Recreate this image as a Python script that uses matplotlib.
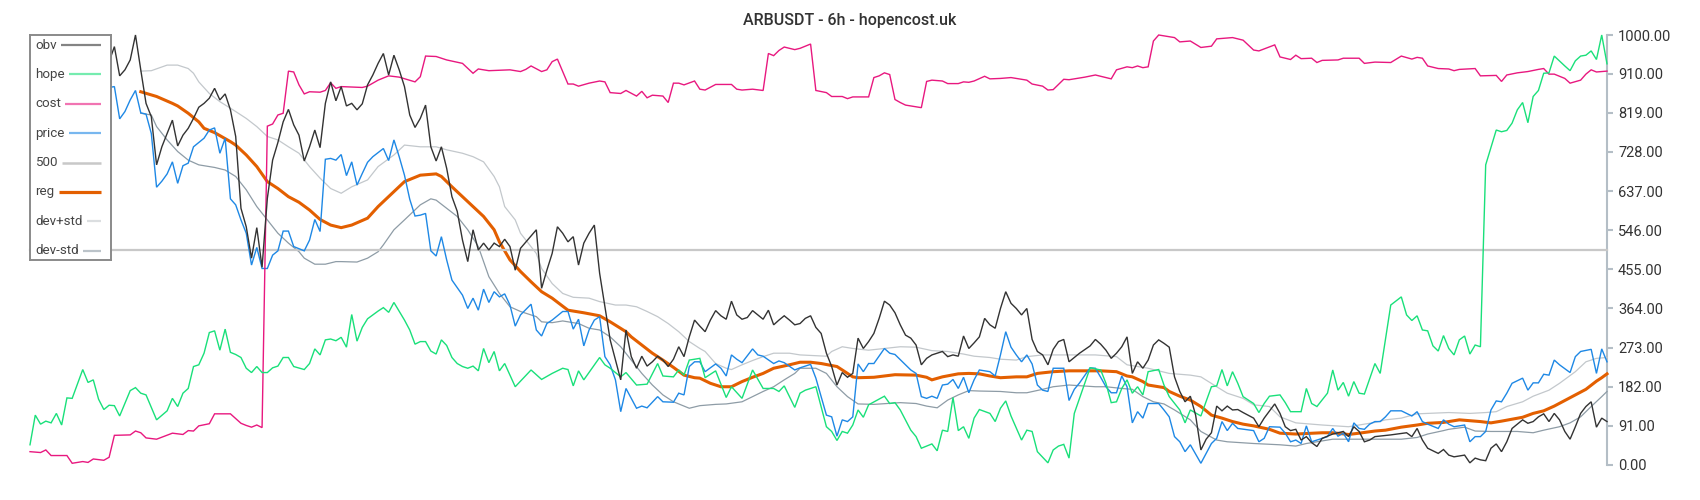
import matplotlib
matplotlib.use("Agg")
import matplotlib.pyplot as plt

plt.rcParams['font.family'] = ['Roboto', 'DejaVu Sans']

title = "ARBUSDT - 6h - hopencost.uk"
n_bars = 300
y_ticks = [0, 91, 182, 273, 364, 455, 546, 637, 728, 819, 910, 1000]
legend_labels = ["obv", "hope", "cost", "price", "500", "reg", "dev+std", "dev-std"]
level_500 = 500

# (bar index, value) pairs
obv_pts = [(15,938),(16,973),(17,905),(18,919),(19,942),(20,1000),(21,919),(22,841),(23,810),(24,698),(25,740),(26,771),(27,802),(28,742),(29,767),(30,783),(31,806),(32,832),(33,841),(34,853),(35,876),(36,849),(37,863),(38,826),(39,764),(40,597),(41,554),(42,481),(43,552),(44,460),(45,620),(46,709),(47,750),(48,798),(49,827),(50,791),(51,767),(52,707),(53,740),(54,779),(55,738),(56,841),(57,891),(58,847),(59,880),(60,835),(61,841),(62,826),(63,840),(64,884),(65,907),(66,934),(67,957),(68,907),(69,953),(70,919),(71,880),(72,814),(73,785),(74,806),(75,837),(76,740),(77,707),(78,740),(79,690),(80,624),(81,590),(82,523),(83,473),(84,547),(85,500),(86,516),(87,500),(88,516),(89,508),(90,525),(91,508),(92,453),(93,504),(96,547),(97,411),(98,453),(99,492),(100,554),(101,539),(102,519),(103,531),(104,465),(105,516),(106,539),(107,558),(108,446),(109,368),(110,291),(112,198),(113,314),(114,252),(115,225),(116,253),(117,230),(118,240),(119,253),(120,244),(121,229),(122,246),(123,275),(124,252),(125,298),(126,337),(127,323),(128,310),(129,337),(130,359),(131,347),(132,339),(133,381),(134,349),(135,339),(136,343),(137,359),(138,349),(139,339),(140,360),(141,326),(142,337),(143,347),(144,337),(145,326),(146,329),(147,341),(148,347),(149,320),(150,306),(151,260),(152,229),(153,186),(154,215),(155,204),(156,213),(157,295),(158,271),(159,287),(160,306),(161,341),(162,381),(163,372),(164,354),(165,326),(166,302),(167,295),(168,279),(169,233),(170,248),(171,256),(173,264),(174,252),(175,256),(176,253),(177,300),(178,271),(179,284),(180,298),(181,341),(182,326),(183,318),(184,364),(185,403),(186,376),(187,364),(188,349),(189,364),(190,292),(191,264),(192,256),(193,233),(194,269),(195,287),(196,292),(197,240),(199,260),(201,277),(202,292),(203,281),(204,267),(205,248),(206,260),(207,275),(208,298),(209,213),(210,240),(211,225),(212,244),(213,279),(214,291),(215,283),(216,274),(217,205),(218,171),(219,147),(220,160),(221,116),(222,35),(223,60),(224,75),(225,137),(226,126),(227,137),(228,128),(229,129),(230,122),(232,109),(233,89),(234,109),(236,142),(237,120),(238,89),(239,80),(240,83),(241,58),(242,66),(243,52),(244,43),(245,62),(247,72),(249,78),(250,66),(251,89),(252,78),(253,54),(254,58),(255,66),(258,70),(261,75),(262,66),(263,85),(264,58),(265,39),(267,27),(268,36),(269,23),(270,19),(271,21),(272,23),(273,5),(274,16),(275,12),(276,10),(277,39),(278,49),(279,31),(280,54),(281,85),(283,105),(284,97),(285,101),(286,112),(287,119),(288,101),(289,120),(290,105),(291,78),(292,60),(293,89),(294,120),(295,136),(296,147),(297,88),(298,109),(299,101)]

hope_pts = [(0,47),(1,116),(2,95),(3,102),(4,98),(5,120),(6,93),(7,156),(8,155),(10,222),(11,192),(12,198),(13,153),(14,129),(15,139),(16,138),(17,114),(19,173),(20,180),(21,167),(22,163),(24,105),(26,126),(27,155),(28,136),(29,167),(30,178),(31,229),(32,233),(33,260),(34,308),(35,312),(36,267),(37,316),(38,262),(39,257),(40,250),(41,225),(42,215),(43,229),(44,215),(45,215),(46,226),(47,230),(48,250),(49,250),(50,229),(52,222),(53,236),(54,270),(55,256),(56,291),(57,293),(58,289),(59,297),(60,274),(61,350),(62,288),(63,320),(64,340),(66,358),(67,366),(68,355),(69,378),(71,337),(72,314),(73,281),(74,287),(75,287),(76,265),(77,258),(78,291),(79,278),(80,250),(81,236),(82,229),(83,225),(84,230),(85,219),(86,271),(87,238),(88,264),(89,219),(90,236),(92,182),(95,221),(97,199),(99,213),(101,225),(102,222),(103,184),(104,219),(105,198),(108,250),(109,233),(110,225),(112,205),(113,215),(115,186),(117,188),(119,236),(120,207),(122,205),(123,221),(124,209),(125,244),(127,248),(128,203),(130,219),(132,157),(133,182),(135,155),(137,221),(139,178),(141,178),(142,171),(143,184),(145,134),(146,167),(147,174),(149,182),(151,89),(152,78),(153,57),(154,78),(155,74),(156,93),(157,128),(158,111),(159,140),(162,160),(163,143),(164,145),(165,128),(167,81),(168,66),(169,39),(171,49),(172,33),(173,81),(174,78),(175,157),(176,80),(177,89),(178,62),(179,109),(180,129),(182,120),(183,101),(184,132),(185,149),(186,114),(188,58),(189,81),(190,78),(191,31),(193,5),(194,35),(195,44),(196,48),(197,16),(198,120),(201,226),(203,221),(204,190),(205,145),(206,147),(207,178),(208,198),(209,167),(210,182),(211,163),(212,217),(214,222),(215,186),(216,159),(218,128),(219,98),(220,128),(222,114),(224,182),(225,184),(226,222),(227,184),(228,217),(229,190),(230,159),(232,143),(233,122),(234,143),(235,160),(237,163),(238,145),(239,124),(241,124),(242,178),(243,143),(244,136),(246,167),(247,221),(248,174),(249,192),(250,160),(251,194),(252,167),(253,165),(255,236),(256,213),(258,372),(260,391),(261,349),(262,336),(263,347),(264,314),(265,312),(266,277),(267,265),(268,301),(269,271),(270,256),(271,291),(272,300),(273,258),(274,279),(275,275),(276,698),(278,779),(279,775),(280,778),(281,795),(282,826),(283,843),(284,796),(285,857),(286,871),(287,911),(288,912),(289,951),(291,928),(292,917),(293,940),(294,951),(295,953),(296,963),(297,943),(298,1000),(299,933)]

cost_pts = [(0,31),(2,29),(3,35),(4,22),(6,22),(7,22),(8,4),(10,8),(11,6),(12,14),(14,11),(15,18),(16,69),(19,70),(20,79),(21,75),(22,63),(24,60),(27,74),(29,71),(30,80),(31,79),(32,91),(34,96),(35,119),(38,119),(40,97),(41,92),(42,88),(43,93),(44,87),(45,788),(46,793),(47,814),(48,818),(49,916),(50,914),(51,884),(52,863),(53,868),(55,867),(56,871),(57,889),(58,876),(59,880),(63,878),(64,881),(66,895),(68,905),(70,902),(73,891),(74,903),(75,951),(77,950),(79,942),(82,934),(84,911),(85,921),(87,917),(91,919),(93,915),(94,920),(95,928),(97,915),(98,919),(99,938),(100,944),(102,886),(103,886),(104,881),(106,888),(108,893),(109,891),(110,866),(112,864),(113,871),(115,858),(116,869),(117,854),(118,860),(120,858),(121,843),(122,888),(123,888),(124,884),(126,893),(127,874),(128,872),(130,885),(133,885),(134,874),(135,872),(137,874),(139,871),(140,957),(141,952),(142,964),(143,972),(144,969),(145,966),(146,969),(148,979),(149,871),(151,866),(152,857),(154,857),(155,852),(156,856),(159,856),(160,901),(161,905),(162,912),(163,908),(164,850),(165,843),(166,837),(169,831),(170,892),(171,895),(173,893),(174,887),(176,887),(177,891),(178,890),(179,893),(181,904),(182,898),(184,899),(186,901),(189,895),(190,886),(192,881),(193,872),(194,873),(196,897),(197,896),(200,902),(202,907),(205,898),(206,919),(208,926),(209,924),(210,928),(211,924),(212,926),(213,986),(214,1000),(217,994),(218,984),(220,986),(222,971),(224,974),(225,991),(228,994),(230,988),(232,965),(233,963),(236,977),(237,949),(239,943),(240,953),(241,945),(243,946),(244,936),(245,941),(248,942),(249,946),(252,946),(253,934),(255,937),(258,936),(260,951),(262,944),(263,948),(264,946),(265,928),(267,922),(269,921),(270,917),(271,920),(274,922),(275,905),(278,906),(279,892),(280,907),(282,912),(284,915),(286,920),(287,922),(288,909),(289,909),(291,899),(292,888),(294,895),(295,909),(296,919),(297,914),(299,916)]

price_pts = [(15,878),(16,880),(17,805),(18,822),(19,849),(20,871),(21,819),(22,816),(23,771),(24,646),(25,660),(26,677),(27,705),(28,655),(29,696),(30,702),(31,740),(32,750),(33,760),(34,779),(35,784),(36,725),(37,760),(38,619),(39,605),(40,570),(41,539),(42,465),(43,506),(44,457),(45,457),(46,488),(47,498),(48,544),(49,544),(50,508),(52,498),(53,523),(54,571),(55,543),(56,711),(57,713),(58,709),(59,722),(60,673),(61,705),(62,651),(63,678),(64,704),(65,717),(67,736),(68,708),(69,756),(70,717),(71,674),(72,618),(73,579),(74,581),(75,585),(76,498),(77,486),(78,531),(79,477),(80,430),(82,395),(83,364),(84,388),(85,360),(86,409),(87,378),(88,403),(89,391),(90,398),(91,372),(92,323),(93,349),(95,374),(96,314),(97,300),(98,329),(99,337),(101,357),(102,357),(103,316),(104,339),(105,277),(106,314),(107,337),(108,345),(109,252),(110,233),(111,198),(112,124),(113,178),(114,155),(115,132),(116,137),(117,133),(119,159),(120,147),(122,146),(123,167),(124,163),(125,229),(126,240),(127,240),(128,217),(130,235),(131,225),(132,207),(133,256),(134,246),(135,238),(137,270),(138,256),(139,253),(141,236),(142,242),(143,238),(145,221),(146,226),(148,234),(149,202),(151,116),(152,112),(153,67),(154,105),(155,101),(156,112),(157,235),(158,217),(159,236),(160,236),(162,271),(163,260),(164,257),(166,233),(167,221),(168,213),(169,159),(170,155),(171,160),(172,155),(173,186),(174,188),(175,199),(176,178),(177,204),(178,168),(179,198),(180,221),(182,217),(183,207),(184,256),(185,310),(186,274),(187,256),(188,240),(189,256),(190,235),(191,186),(192,174),(193,171),(194,225),(196,225),(197,150),(198,176),(199,191),(201,226),(202,225),(203,204),(204,182),(205,168),(206,168),(207,207),(208,182),(209,98),(210,124),(211,109),(212,143),(214,143),(215,128),(216,112),(217,66),(218,54),(219,31),(220,47),(222,4),(223,27),(224,50),(225,62),(226,101),(227,80),(228,97),(229,85),(232,80),(233,54),(234,62),(235,89),(237,88),(238,74),(239,54),(240,58),(241,50),(242,91),(243,54),(245,62),(246,66),(247,85),(248,67),(249,74),(250,54),(251,98),(252,85),(253,83),(254,95),(255,101),(256,101),(257,112),(258,126),(260,126),(262,114),(263,124),(264,101),(265,95),(267,85),(268,105),(269,95),(270,89),(272,93),(273,54),(274,66),(275,66),(276,78),(277,128),(278,149),(279,147),(280,167),(281,190),(283,202),(284,174),(285,191),(286,191),(287,211),(288,209),(289,244),(290,233),(292,215),(293,252),(294,264),(296,269),(297,213),(298,270),(299,240)]

reg_pts = [(21,868),(24,857),(27,841),(28,835),(30,818),(32,798),(33,783),(35,773),(38,752),(39,744),(41,721),(43,694),(45,659),(47,643),(49,624),(51,611),(53,593),(55,571),(57,558),(59,552),(61,558),(64,574),(66,601),(69,636),(71,659),(74,674),(77,677),(78,671),(80,647),(82,624),(84,601),(86,578),(88,547),(89,519),(91,477),(93,450),(95,426),(97,403),(99,388),(102,360),(105,354),(108,347),(110,333),(113,310),(114,298),(116,279),(118,260),(120,244),(122,227),(124,209),(126,203),(127,202),(129,190),(131,182),(133,182),(135,194),(137,204),(139,213),(141,225),(144,233),(146,239),(148,239),(150,236),(153,229),(154,221),(156,205),(157,203),(160,204),(164,210),(168,209),(170,204),(171,198),(173,205),(176,212),(178,213),(180,212),(182,207),(184,203),(187,205),(189,205),(191,213),(194,217),(197,219),(200,219),(203,219),(206,217),(208,207),(209,205),(211,194),(212,186),(215,180),(216,171),(218,160),(220,151),(222,136),(224,116),(226,109),(228,101),(230,95),(232,91),(235,83),(237,74),(240,72),(245,75),(247,75),(250,71),(252,74),(255,79),(257,81),(260,88),(263,93),(265,97),(268,99),(269,101),(271,105),(275,101),(277,98),(279,102),(283,111),(285,120),(287,126),(289,137),(291,150),(293,163),(295,176),(297,195),(298,203),(299,212)]

dev_plus_pts = [(21,916),(23,917),(26,930),(28,930),(30,922),(31,911),(32,891),(34,864),(36,845),(39,822),(41,806),(43,787),(45,764),(47,756),(49,740),(51,725),(53,694),(55,667),(57,643),(59,632),(61,647),(64,663),(66,694),(69,721),(71,744),(74,740),(77,740),(79,733),(82,725),(84,717),(86,705),(88,671),(89,647),(90,601),(92,570),(93,539),(96,492),(97,457),(99,422),(101,399),(103,390),(106,388),(108,380),(111,372),(113,372),(115,368),(117,357),(119,345),(121,329),(123,310),(125,287),(127,271),(128,264),(130,236),(132,225),(133,222),(135,233),(137,243),(139,252),(141,260),(144,260),(146,256),(151,253),(152,264),(154,275),(156,271),(159,267),(162,271),(165,275),(168,274),(171,266),(174,264),(177,258),(179,253),(182,250),(184,246),(187,244),(189,252),(192,256),(197,256),(202,256),(206,252),(208,233),(212,225),(216,213),(220,209),(222,205),(225,182),(227,167),(230,155),(232,140),(235,136),(237,112),(240,98),(245,93),(250,89),(252,93),(255,99),(257,105),(260,109),(263,119),(265,120),(269,122),(273,120),(276,122),(278,124),(280,136),(283,147),(285,160),(288,174),(290,190),(293,217),(295,240),(297,248),(299,250)]

dev_minus_pts = [(21,818),(23,814),(24,787),(26,756),(28,729),(30,709),(32,698),(34,694),(35,692),(37,686),(39,671),(41,640),(43,601),(45,570),(47,539),(49,516),(51,496),(52,481),(54,467),(56,467),(58,473),(59,473),(62,472),(64,481),(66,496),(67,512),(69,547),(71,570),(74,605),(76,619),(77,616),(79,597),(81,578),(83,547),(85,508),(87,438),(89,399),(91,368),(93,357),(96,345),(97,333),(99,331),(101,335),(104,329),(106,318),(108,314),(110,298),(112,275),(114,244),(116,213),(118,186),(120,163),(122,147),(125,132),(127,138),(130,141),(132,142),(135,147),(137,159),(139,171),(141,182),(143,198),(145,213),(146,225),(149,225),(151,213),(153,182),(155,159),(157,142),(160,141),(165,145),(168,143),(170,137),(172,133),(174,151),(176,163),(178,173),(180,172),(184,171),(187,168),(189,168),(192,176),(194,182),(197,186),(202,182),(204,182),(207,178),(209,176),(211,159),(213,147),(215,142),(217,128),(220,105),(222,78),(225,58),(227,54),(232,50),(237,47),(240,44),(242,50),(245,56),(247,60),(252,60),(257,60),(260,60),(263,64),(265,72),(268,80),(269,83),(272,88),(274,79),(277,78),(282,78),(285,75),(287,81),(290,89),(292,98),(294,112),(296,136),(298,159),(299,171)]

W, H = 1700, 500
fig = plt.figure(figsize=(W / 100, H / 100), dpi=100)
ax = fig.add_axes([30 / W, 35 / H, 1577 / W, 430 / H])

def unzip(pts):
    return [p[0] for p in pts], [p[1] for p in pts]

styles = {
    "obv": ("#333333", 1.0),
    "hope": ("#19e07a", 1.0),
    "cost": ("#e8187f", 1.0),
    "price": ("#1e88e5", 1.0),
    "500": ("#c8c8c8", 1.6),
    "reg": ("#e35f00", 2.2),
    "dev+std": ("#c3c8cc", 0.9),
    "dev-std": ("#8e9ca6", 0.9),
}

data = {
    "obv": unzip(obv_pts),
    "hope": unzip(hope_pts),
    "cost": unzip(cost_pts),
    "price": unzip(price_pts),
    "500": (list(range(n_bars)), [level_500] * n_bars),
    "reg": unzip(reg_pts),
    "dev+std": unzip(dev_plus_pts),
    "dev-std": unzip(dev_minus_pts),
}

nlab = len(legend_labels)
for k, lab in enumerate(legend_labels):
    xs, ys = data[lab]
    c, lw = styles[lab]
    ax.plot(xs, ys, color=c, lw=lw, zorder=10 + (nlab - k), clip_on=False,
            solid_joinstyle='miter')

ax.set_xlim(0, n_bars - 1)
ax.set_ylim(0, 1000)
ax.set_xticks([])
ax.yaxis.tick_right()
ax.set_yticks(y_ticks)
ax.set_yticklabels([f"{v:.2f}" for v in y_ticks])
for side in ["left", "top", "bottom"]:
    ax.spines[side].set_visible(False)
ax.spines["right"].set_color("#b4bec6")
ax.spines["right"].set_linewidth(1.5)
ax.tick_params(axis="y", direction="out", length=4, width=1.5, color="#b4bec6",
               labelsize=10.5, labelcolor="#333333", pad=4)
ax.patch.set_alpha(0)

fig.text(0.5, 1 - 21 / H, title, ha="center", va="center", fontsize=11.5,
         color="#333333", fontweight="medium")

# legend box (text first, handle to the right)
lax = fig.add_axes([30 / W, 1 - 260 / H, 81 / W, 225 / H])
lax.set_zorder(20)
lax.set_xlim(0, 81)
lax.set_ylim(225, 0)
lax.set_xticks([])
lax.set_yticks([])
lax.set_facecolor("white")
for s in lax.spines.values():
    s.set_color("#8a8a8a")
    s.set_linewidth(1.4)

texts = []
for k, lab in enumerate(legend_labels):
    yk = 10 + k * 29.4
    t = lax.text(5, yk, lab, ha="left", va="center", fontsize=9.6, color="#444444")
    texts.append((t, yk, lab))

fig.canvas.draw()
inv = lax.transData.inverted()
for t, yk, lab in texts:
    bb = t.get_window_extent()
    x_end = inv.transform((bb.x1, bb.y0))[0]
    c, lw = styles[lab]
    if lab == "reg":
        hlw, alpha = 2.3, 1.0
    elif lab == "500":
        hlw, alpha = 1.8, 1.0
    else:
        hlw, alpha = 1.6, 0.6
    lax.plot([x_end + 4.5, 70.7], [yk, yk], color=c, lw=hlw, alpha=alpha,
             solid_capstyle="butt")

fig.savefig("out.png", dpi=100)
